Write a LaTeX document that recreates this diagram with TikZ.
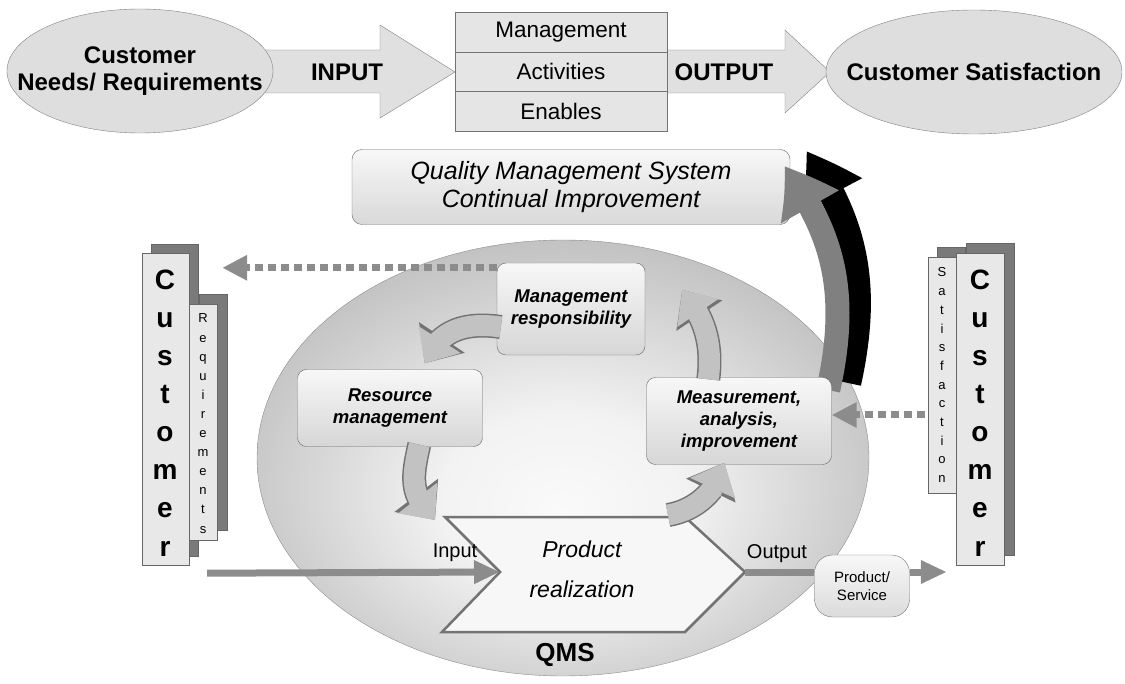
\documentclass[tikz,border=0pt]{standalone}
\usepackage{fontspec}
\setmainfont{Liberation Sans}
\usepackage{tikz}
\usetikzlibrary{arrows.meta,bending,calc,positioning,shapes.geometric}

% soft glow for the QMS disc
\pgfdeclareradialshading{qmsglow}{\pgfpoint{0bp}{-6bp}}{color(0bp)=(black!2); color(10bp)=(black!5); color(26bp)=(black!22); color(40bp)=(black!37); color(50bp)=(black!48)}

\begin{document}
\begin{tikzpicture}[x=1pt,y=-1pt,
  topell/.style={ellipse, draw=black!50, fill=black!13, inner sep=0pt},
  toplbl/.style={font=\fontsize{24}{27}\selectfont\bfseries, align=center},
  rowbox/.style={draw=black!55, fill=black!10, minimum width=212pt, minimum height=39.5pt, inner sep=0pt, font=\fontsize{22.5}{24}\selectfont},
  blockarr/.style={draw=black!50, fill=black!12},
  cibox/.style={draw=black!60, rounded corners=10pt, top color=black!3, bottom color=black!15, minimum width=438pt, minimum height=75pt, inner sep=0pt, align=center, font=\fontsize{25}{28}\selectfont\itshape},
  procbox/.style={draw=black!60, rounded corners=9pt, top color=black!3, bottom color=black!16, inner sep=0pt, align=center, font=\fontsize{18.5}{22}\selectfont\bfseries\itshape},
  chev/.style={draw=black!55, fill=black!3, line width=2.5pt},
  cycarr/.style={line width=21pt, draw=black!24, -{Triangle[width=48pt,length=28pt]}},
  cycrim/.style={line width=24pt, draw=black!55, -{Triangle[width=53pt,length=31pt]}},
  dotarr/.style={draw=black!45, line width=7pt, dash pattern=on 8pt off 5pt, -{Triangle[width=24pt,length=25pt]}},
  flowarr/.style={draw=black!45, line width=7pt, -{Triangle[width=22pt,length=26pt]}},
  flowline/.style={draw=black!45, line width=7pt},
  flowlbl/.style={font=\fontsize{20}{22}\selectfont},
  frontbox/.style={draw=black!60, fill=black!9, inner sep=0pt},
  shadowbox/.style={draw=black!60, fill=black!52, inner sep=0pt},
  bigchar/.style={font=\fontsize{28}{28}\selectfont\bfseries, inner sep=0pt, anchor=base},
  smallchar/.style={font=\fontsize{13}{13}\selectfont, inner sep=0pt, anchor=base},
  svcbox/.style={draw=black!55, rounded corners=18pt, top color=black!3, bottom color=black!14, minimum width=95pt, minimum height=62pt, inner sep=0pt, align=center, font=\fontsize{15}{18}\selectfont}]
\useasboundingbox (0,0) rectangle (1125,684);

% top row: input -> activities -> output
\draw[blockarr] (262,50) -- (380,50) -- (380,25) -- (455,72) -- (380,118) -- (380,93) -- (262,93) -- cycle;
\draw[blockarr] (662,50) -- (785,50) -- (785,30) -- (830,72) -- (785,113) -- (785,93) -- (662,93) -- cycle;
\node[topell, minimum width=266pt, minimum height=124pt] (needs) at (140,71) {};
\node[toplbl] (needstxt) at (needs) {Customer\\Needs/ Requirements};
\node[topell, minimum width=296pt, minimum height=124pt] (satis) at (974,72) {};
\node[toplbl] (satistxt) at (satis) {Customer Satisfaction};
\node[rowbox] (rowmg) at (561,32) {Management};
\node[rowbox] (rowact) at (561,71.5) {Activities};
\node[rowbox] (rowen) at (561,111) {Enables};
\node[toplbl] (inputlbl) at (347,72) {INPUT};
\node[toplbl] (outputlbl) at (724,72) {OUTPUT};

% continual improvement banner
\node[cibox] (cibox) at (571,187) {Quality Management System\\Continual Improvement};

% QMS disc
\node[ellipse, minimum width=612pt, minimum height=436pt, draw=black!45, shade, shading=qmsglow] (qmsell) at (563,458) {};
\node[font=\fontsize{26}{28}\selectfont\bfseries] (qmstxt) at (565,655) {QMS};

% improvement arrow (shadow first)
\draw[line width=26pt, draw=black, -{Triangle[bend,width=64pt,length=52pt]}]
  ($(cibox.east)+(58,196)$) .. controls +(22,-100) and +(48,70) .. ($(cibox.east)+(16,-36)$);
\draw[line width=24pt, draw=black!50, -{Triangle[bend,width=62pt,length=50pt]}]
  ($(cibox.east)+(38,203)$) .. controls +(22,-100) and +(48,66) .. ($(cibox.east)+(-6,-21)$);

% product realization
\draw[chev] (445,517) coordinate (chtl) -- (685,517) -- (745,572) coordinate (chtip) -- (685,632) -- (442,632) -- (500,572) coordinate (chnotch) -- cycle;
\node[font=\fontsize{23}{40}\selectfont\itshape, align=center] (prod) at (582,569) {Product\\realization};

% process boxes
\node[procbox, minimum width=148pt, minimum height=92pt] (mresp) at (571,309) {Management\\responsibility};
\node[procbox, minimum width=185pt, minimum height=77pt] (resmgmt) at (390,408) {Resource\\management};
\node[procbox, minimum width=185pt, minimum height=87pt] (measure) at (739,421) {Measurement,\\analysis,\\improvement};

% cycle arrows
\draw[cycrim] ($(mresp.west)+(4,18)$) .. controls +(-40,-6) and +(12,-30) .. ($(resmgmt.north east)+(-58,-6)$);
\draw[cycarr] ($(mresp.west)+(4,18)$) .. controls +(-40,-6) and +(12,-30) .. ($(resmgmt.north east)+(-58,-6)$);
\draw[cycrim] ($(resmgmt.south west)+(122,-2)$) .. controls +(-8,35) and +(-25,-25) .. ($(chtl)+(-10,3)$);
\draw[cycarr] ($(resmgmt.south west)+(122,-2)$) .. controls +(-8,35) and +(-25,-25) .. ($(chtl)+(-10,3)$);
\draw[cycrim] ($(chtl)+(223,-2)$) .. controls +(30,-5) and +(-5,25) .. ($(measure.south west)+(78,-2)$);
\draw[cycarr] ($(chtl)+(223,-2)$) .. controls +(30,-5) and +(-5,25) .. ($(measure.south west)+(78,-2)$);
\draw[cycrim] ($(measure.north west)+(62,2)$) .. controls +(5,-40) and +(20,25) .. ($(mresp.north east)+(37,27)$);
\draw[cycarr] ($(measure.north west)+(62,2)$) .. controls +(5,-40) and +(20,25) .. ($(mresp.north east)+(37,27)$);

% customer columns, left
\node[shadowbox, minimum width=47pt, minimum height=312pt] (custLsh) at (174.5,400) {};
\node[shadowbox, minimum width=28pt, minimum height=236pt] (reqLsh) at (213,412) {};
\node[frontbox, minimum width=28pt, minimum height=236pt] (reqL) at (203,422) {};
\node[frontbox, minimum width=47pt, minimum height=312pt] (custL) at (165.5,409) {};
\foreach \ch [count=\k from 0] in {C,u,s,t,o,m,e,r}
  \node[bigchar] (cl\k) at (165,{290+38*\k}) {\ch};
\foreach \ch [count=\k from 0] in {R,e,q,u,i,r,e,m,e,n,t,s}
  \node[smallchar] (rq\k) at (203,{323+19.1*\k}) {\ch};

% customer columns, right
\node[shadowbox, minimum width=28pt, minimum height=236pt] (satRsh) at (951,365) {};
\node[shadowbox, minimum width=48pt, minimum height=312pt] (custRsh) at (990,399) {};
\node[frontbox, minimum width=28pt, minimum height=236pt] (satR) at (942,375) {};
\node[frontbox, minimum width=48pt, minimum height=312pt] (custR) at (980,409) {};
\foreach \ch [count=\k from 0] in {C,u,s,t,o,m,e,r}
  \node[bigchar] (cr\k) at (980,{290+38*\k}) {\ch};
\foreach \ch [count=\k from 0] in {S,a,t,i,s,f,a,c,t,i,o,n}
  \node[smallchar] (sf\k) at (942,{277+18.7*\k}) {\ch};

% requirements in, satisfaction back
\coordinate (reqin) at ($(reqLsh.north east)+(-5,-26)$);
\draw[dotarr] (mresp.west |- reqin) -- (reqin);
\coordinate (satout) at ($(satR.west)+(-3,40)$);
\draw[dotarr] (satout) -- (satout -| measure.east);

% input / output
\node[svcbox] (prodserv) at (862,586) {Product/\\Service};
\coordinate (inbeg) at ($(custL.south east)+(18,8)$);
\draw[flowarr] (inbeg) -- (chnotch);
\draw[flowline] (chtip) -- (chtip -| prodserv.west);
\draw[flowarr] (chtip -| prodserv.east) -- ($(chtip -| custR.west)+(-9,0)$);
\node[flowlbl] (inlbl) at ($(chnotch)+(-45,-19)$) {Input};
\node[flowlbl] (outlbl) at ($(chtip)+(32,-18)$) {Output};
\end{tikzpicture}
\end{document}
